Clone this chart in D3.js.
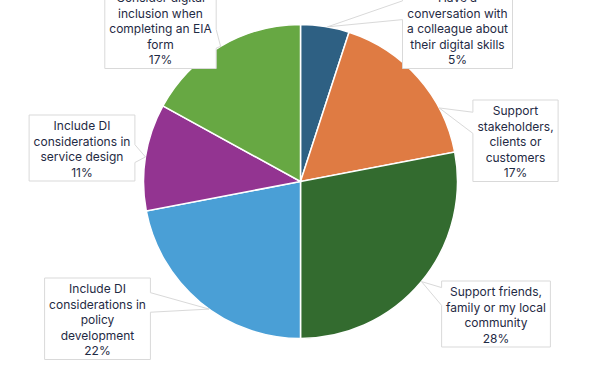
<!DOCTYPE html>
<html lang="en">
<head>
	<meta charset="UTF-8">
	<title>Pie chart</title>
	<style>
		*{margin:0;padding:0;}
		body {background:#fff;}
		text {font-family: Inter, "Noto Sans", sans-serif; font-size: 12px; fill: #1f2a44;}
	</style>
</head>
<body>
	<div id="container"></div>
	<script src="https://cdn.jsdelivr.net/npm/d3@7/dist/d3.min.js"></script>
	<script>
		// line breaks as in the original callouts
		var categories = [
			"Have a\nconversation with\na colleague about\ntheir digital skills",
			"Support\nstakeholders,\nclients or\ncustomers",
			"Support friends,\nfamily or my local\ncommunity",
			"Include DI\nconsiderations in\npolicy\ndevelopment",
			"Include DI\nconsiderations in\nservice design",
			"Consider digital\ninclusion when\ncompleting an EIA\nform"
		]
		var values = [5, 17, 28, 22, 11, 17]
		var colors = ["#2e6083", "#df7b43", "#336b2f", "#4a9fd6", "#933491", "#67a843"]

		// callout placement: box centre x, box top y, side of pointer, pointer base (fraction of height), where on the slice it points
		var layout = [
			{cx: 457.5, top: -13, side: "left",  b0: 0.17, b1: 0.4,  at: 0.55},
			{cx: 515.5, top: 100, side: "left",  b0: 0.15, b1: 0.41, at: 0.72},
			{cx: 496,   top: 281, side: "left",  b0: 0.1,  b1: 0.37, at: 0.5},
			{cx: 97.5,  top: 278, side: "right", b0: 0.18, b1: 0.42, at: 0.45},
			{cx: 82,    top: 115, side: "right", b0: 0.45, b1: 0.72, at: 0.5},
			{cx: 160.5, top: -13, side: "right", b0: 0.52, b1: 0.75, at: 0.5}
		]

		var width = 600, height = 375, cx = 300.5, cy = 181.5, r = 157
		var lineH = 15.5

		var svg = d3.select('#container').append('svg').attr('width', width).attr('height', height)

		var pie = d3.pie().sort(null).value(function (d) {return d})
		var arc = d3.arc().innerRadius(0).outerRadius(r)
		var arcs = pie(values)
		var total = d3.sum(values)
		var pct = d3.format(".0%")

		var g = svg.append('g').attr('transform', `translate(${cx}, ${cy})`)
		g.selectAll('path')
			.data(arcs)
			.enter()
			.append('path')
			.attr('d', arc)
			.attr('fill', function (d, i) {return colors[i]})
			.attr('stroke', '#fff')
			.attr('stroke-width', 1.5)

		var meas = svg.append('text').attr('visibility', 'hidden')
		function textW(s) { meas.text(s); return meas.node().getComputedTextLength() }

		var labels = svg.append('g')
		arcs.forEach(function (d, i) {
			var L = layout[i]
			var lines = categories[i].split('\n').concat([pct(values[i] / total)])
			var w = d3.max(lines, textW) + 9
			var h = lines.length * lineH + 4
			var x0 = L.cx - w / 2, x1 = L.cx + w / 2, y0 = L.top, y1 = L.top + h
			var a = d.startAngle + (d.endAngle - d.startAngle) * L.at
			var ax = cx + r * Math.sin(a), ay = cy - r * Math.cos(a)
			var p = d3.path()
			if (L.side == "right") {
				p.moveTo(x0, y0); p.lineTo(x1, y0)
				p.lineTo(x1, y0 + h * L.b0); p.lineTo(ax, ay); p.lineTo(x1, y0 + h * L.b1)
				p.lineTo(x1, y1); p.lineTo(x0, y1); p.closePath()
			} else {
				p.moveTo(x0, y0); p.lineTo(x1, y0); p.lineTo(x1, y1); p.lineTo(x0, y1)
				p.lineTo(x0, y0 + h * L.b1); p.lineTo(ax, ay); p.lineTo(x0, y0 + h * L.b0)
				p.closePath()
			}
			labels.append('path')
				.attr('d', p.toString())
				.attr('fill', '#fff')
				.attr('stroke', '#d9d9d9')
				.attr('stroke-width', 1)
			labels.append('text')
				.attr('text-anchor', 'middle')
				.selectAll('tspan')
				.data(lines)
				.enter()
				.append('tspan')
				.attr('x', L.cx)
				.attr('y', function (s, j) {return y0 + 15 + j * lineH})
				.text(function (s) {return s})
		})
		meas.remove()
	</script>
</body>
</html>
